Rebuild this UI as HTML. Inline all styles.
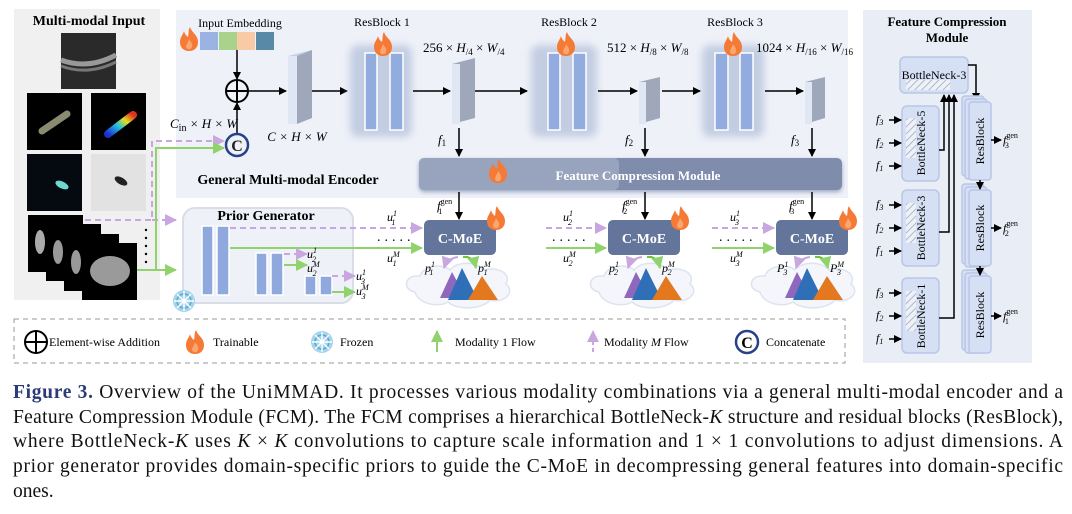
<!DOCTYPE html>
<html><head><meta charset="utf-8"><style>
html,body{margin:0;padding:0;background:#fff;}
svg{display:block;font-family:"Liberation Serif",serif;}
</style></head><body>
<svg width="1072" height="514" viewBox="0 0 1072 514" xmlns="http://www.w3.org/2000/svg">
<defs>
<marker id="ab" markerWidth="8" markerHeight="8" refX="7" refY="4" orient="auto" markerUnits="userSpaceOnUse"><path d="M0,0 L8,4 L0,8 z" fill="#000"/></marker>
<marker id="ap" markerWidth="12" markerHeight="12" refX="11" refY="6" orient="auto" markerUnits="userSpaceOnUse"><path d="M0,0 L12,6 L0,12 z" fill="#c9a6e0"/></marker>
<marker id="ag" markerWidth="12" markerHeight="12" refX="11" refY="6" orient="auto" markerUnits="userSpaceOnUse"><path d="M0,0 L12,6 L0,12 z" fill="#90d26c"/></marker>
<filter id="bl" x="-30%" y="-30%" width="160%" height="160%"><feGaussianBlur stdDeviation="4"/></filter>
<filter id="bl2" x="-30%" y="-30%" width="160%" height="160%"><feGaussianBlur stdDeviation="2"/></filter>
<pattern id="hatch" width="5" height="5" patternUnits="userSpaceOnUse" patternTransform="rotate(45)"><rect width="5" height="5" fill="#eef1f8"/><line x1="0" y1="0" x2="0" y2="5" stroke="#9aa4b8" stroke-width="1.5"/></pattern>
<linearGradient id="rg" x1="0" y1="1" x2="1" y2="0"><stop offset="0" stop-color="#2030d0"/><stop offset=".4" stop-color="#20c0e0"/><stop offset=".7" stop-color="#e0e020"/><stop offset="1" stop-color="#e03020"/></linearGradient>
<g id="flame"><path d="M10,0 C12,6 18,8 18,15 C18,21 14,24 9,24 C4,24 0,21 0,15 C0,10 3,8 4,4 C5,8 7,9 8,10 C9,6 8,3 10,0z" fill="#f47a36"/><path d="M9,12 C11,15 13,17 12,20 C11,23 7,23 6,20 C6,17 8,16 9,12z" fill="#f9a670"/></g>
<g id="snow"><circle r="11" fill="#a6d4ec"/><circle r="7" fill="none" stroke="#5aa7d2" stroke-width="1.5"/><path d="M-10,0H10M0,-10V10M-7,-7L7,7M-7,7L7,-7" stroke="#fff" stroke-width="1.4"/><circle r="2" fill="#fff"/></g>
</defs>

<!-- Left panel -->
<rect x="14" y="9" width="146" height="291" fill="#f0f0f0"/>
<text x="89" y="25" font-size="14" font-weight="bold" text-anchor="middle">Multi-modal Input</text>
<rect x="61" y="33" width="55" height="56" fill="#2a2a2a"/>
<path d="M61,60 Q88,70 116,55" stroke="#999" stroke-width="5" fill="none"/>
<path d="M61,66 Q88,76 116,62" stroke="#777" stroke-width="3" fill="none"/>
<rect x="27" y="93" width="55" height="57" fill="#000"/>
<rect x="91" y="93" width="55" height="57" fill="#000"/>
<line x1="42" y1="131" x2="67" y2="114" stroke="#8a8a70" stroke-width="7" stroke-linecap="round"/>
<line x1="108" y1="134" x2="133" y2="115" stroke="url(#rg)" stroke-width="8" stroke-linecap="round"/>
<rect x="27" y="154" width="55" height="57" fill="#050a10"/>
<ellipse cx="62" cy="185" rx="7" ry="3.5" fill="#6fd8d0" transform="rotate(25 62 185)"/>
<rect x="91" y="154" width="55" height="57" fill="#e2e2e2"/>
<ellipse cx="121" cy="181" rx="7" ry="3.5" fill="#222" transform="rotate(30 121 181)"/>
<rect x="28" y="215" width="55" height="57" fill="#000"/><ellipse cx="40" cy="242" rx="5" ry="12" fill="#aaa"/>
<rect x="46" y="224" width="55" height="57" fill="#000"/><ellipse cx="58" cy="252" rx="5" ry="12" fill="#999"/>
<rect x="64" y="234" width="55" height="57" fill="#000"/><ellipse cx="76" cy="262" rx="5" ry="12" fill="#999"/>
<rect x="82" y="243" width="55" height="57" fill="#000"/><ellipse cx="110" cy="271" rx="20" ry="15" fill="#9a9a9a"/>
<g fill="#000"><circle cx="146" cy="230" r="1.2"/><circle cx="146" cy="238" r="1.2"/><circle cx="146" cy="246" r="1.2"/><circle cx="146" cy="254" r="1.2"/><circle cx="146" cy="262" r="1.2"/></g>

<!-- Encoder panel -->
<rect x="176" y="10" width="672" height="188" fill="#eef1f8"/>
<text x="240" y="27" font-size="12" text-anchor="middle">Input Embedding</text>
<use href="#flame" x="180" y="27"/>
<rect x="200" y="32" width="18" height="18" fill="#9bb3e2"/><rect x="219" y="32" width="18" height="18" fill="#a9d38c"/><rect x="237" y="32" width="18" height="18" fill="#f8caa6"/><rect x="256" y="32" width="18" height="18" fill="#5889a7"/>
<line x1="237" y1="50" x2="237" y2="79" stroke="#000" stroke-width="1.5" marker-end="url(#ab)"/>
<circle cx="237" cy="91" r="11" fill="none" stroke="#000" stroke-width="2"/>
<path d="M226,91H248M237,80V102" stroke="#000" stroke-width="2"/>
<line x1="237" y1="133" x2="237" y2="103" stroke="#000" stroke-width="1.5" marker-end="url(#ab)"/>
<circle cx="237" cy="145" r="11" fill="#eef1f8" stroke="#27408b" stroke-width="2.5"/>
<text x="237" y="151" font-size="16" font-weight="bold" text-anchor="middle" fill="#222">C</text>
<text x="170" y="128" font-size="13" font-style="italic">C<tspan font-style="normal" font-size="10" dy="3">in</tspan><tspan dy="-3"> × H × W</tspan></text>
<polygon points="288,56 312,50 312,118 288,124" fill="#c6d0e4"/>
<polygon points="297,56 312,50 312,118 297,124" fill="#9ea8ba"/>
<rect x="288" y="56" width="9" height="68" fill="#dfe6f4"/>
<text x="297" y="141" font-size="13" font-style="italic" text-anchor="middle">C × H × W</text>
<line x1="248" y1="91" x2="286" y2="91" stroke="#000" stroke-width="1.5" marker-end="url(#ab)"/>
<line x1="312" y1="91" x2="347" y2="91" stroke="#000" stroke-width="1.5" marker-end="url(#ab)"/>
<g>
<rect x="350" y="45" width="62" height="92" rx="8" fill="#c3cde2" filter="url(#bl)"/>
<rect x="365" y="53" width="12" height="77" fill="#93ace0" stroke="#fff" stroke-width="1.5"/><rect x="390" y="53" width="13" height="77" fill="#93ace0" stroke="#fff" stroke-width="1.5"/>
<use href="#flame" x="374" y="32"/>
<text x="382" y="26" font-size="12" text-anchor="middle">ResBlock 1</text>
</g>
<g>
<rect x="531" y="45" width="66" height="92" rx="8" fill="#c3cde2" filter="url(#bl)"/>
<rect x="548" y="53" width="12" height="77" fill="#93ace0" stroke="#fff" stroke-width="1.5"/><rect x="573" y="53" width="13" height="77" fill="#93ace0" stroke="#fff" stroke-width="1.5"/>
<use href="#flame" x="557" y="32"/>
<text x="569" y="26" font-size="12" text-anchor="middle">ResBlock 2</text>
</g>
<g>
<rect x="702" y="45" width="62" height="92" rx="8" fill="#c3cde2" filter="url(#bl)"/>
<rect x="715" y="53" width="13" height="77" fill="#93ace0" stroke="#fff" stroke-width="1.5"/><rect x="740" y="53" width="13" height="77" fill="#93ace0" stroke="#fff" stroke-width="1.5"/>
<use href="#flame" x="724" y="32"/>
<text x="735" y="26" font-size="12" text-anchor="middle">ResBlock 3</text>
</g>
<line x1="413" y1="91" x2="450" y2="91" stroke="#000" stroke-width="1.5" marker-end="url(#ab)"/>
<polygon points="452,64 475,58 475,118 452,124" fill="#9ea8ba"/><rect x="452" y="64" width="8" height="60" fill="#dfe6f4"/>
<line x1="475" y1="91" x2="527" y2="91" stroke="#000" stroke-width="1.5" marker-end="url(#ab)"/>
<line x1="598" y1="91" x2="637" y2="91" stroke="#000" stroke-width="1.5" marker-end="url(#ab)"/>
<polygon points="639,82 660,77 660,118 639,124" fill="#9ea8ba"/><rect x="639" y="82" width="7" height="42" fill="#dfe6f4"/>
<line x1="662" y1="91" x2="700" y2="91" stroke="#000" stroke-width="1.5" marker-end="url(#ab)"/>
<line x1="765" y1="91" x2="803" y2="91" stroke="#000" stroke-width="1.5" marker-end="url(#ab)"/>
<polygon points="805,82 825,77 825,118 805,124" fill="#9ea8ba"/><rect x="805" y="82" width="7" height="42" fill="#dfe6f4"/>
<g font-size="13"><text x="423" y="52">256 × <tspan font-style="italic">H</tspan><tspan font-size="9" dy="3">/4</tspan><tspan dy="-3"> × </tspan><tspan font-style="italic">W</tspan><tspan font-size="9" dy="3">/4</tspan></text>
<text x="607" y="52">512 × <tspan font-style="italic">H</tspan><tspan font-size="9" dy="3">/8</tspan><tspan dy="-3"> × </tspan><tspan font-style="italic">W</tspan><tspan font-size="9" dy="3">/8</tspan></text>
<text x="756" y="52">1024 × <tspan font-style="italic">H</tspan><tspan font-size="9" dy="3">/16</tspan><tspan dy="-3"> × </tspan><tspan font-style="italic">W</tspan><tspan font-size="9" dy="3">/16</tspan></text></g>
<g font-size="13" font-style="italic"><text x="438" y="144">f<tspan font-size="9" font-style="normal" dy="2">1</tspan></text><text x="625" y="144">f<tspan font-size="9" font-style="normal" dy="2">2</tspan></text><text x="791" y="144">f<tspan font-size="9" font-style="normal" dy="2">3</tspan></text></g>
<line x1="459" y1="128" x2="459" y2="156" stroke="#000" stroke-width="1.5" marker-end="url(#ab)"/>
<line x1="645" y1="128" x2="645" y2="156" stroke="#000" stroke-width="1.5" marker-end="url(#ab)"/>
<line x1="812" y1="128" x2="812" y2="156" stroke="#000" stroke-width="1.5" marker-end="url(#ab)"/>
<rect x="419" y="160" width="423" height="32" rx="5" fill="#9aa6c0" filter="url(#bl2)"/>
<rect x="419" y="158" width="423" height="32" rx="5" fill="#7f8cab"/>
<rect x="419" y="158" width="200" height="32" rx="5" fill="#a8b3c9" opacity=".6"/>
<use href="#flame" x="489" y="159"/>
<text x="638" y="180" font-size="13" font-weight="bold" fill="#fff" text-anchor="middle">Feature Compression Module</text>
<text x="288" y="184" font-size="14" font-weight="bold" text-anchor="middle">General Multi-modal Encoder</text>

<path d="M85,220 H152 V141 H224" stroke="#c9a6e0" stroke-width="2" stroke-dasharray="6,4" fill="none" marker-end="url(#ap)"/>
<path d="M152,220 H176" stroke="#c9a6e0" stroke-width="2" stroke-dasharray="6,4" fill="none" marker-end="url(#ap)"/>
<path d="M137,270 H156 V148 H224" stroke="#90d26c" stroke-width="2" fill="none" marker-end="url(#ag)"/>
<path d="M156,270 H176" stroke="#90d26c" stroke-width="2" fill="none" marker-end="url(#ag)"/>

<rect x="183" y="208" width="170" height="95" rx="12" fill="#eef1f8" stroke="#d8dde8" stroke-width="2"/>
<text x="266" y="220" font-size="14" font-weight="bold" text-anchor="middle">Prior Generator</text>
<g fill="#8fa9df" stroke="#fff" stroke-width="1.5">
<rect x="202" y="226" width="11" height="69"/><rect x="217" y="226" width="12" height="69"/>
<rect x="256" y="253" width="11" height="42"/><rect x="271" y="253" width="12" height="42"/>
<rect x="305" y="276" width="11" height="19"/><rect x="320" y="276" width="12" height="19"/></g>
<use href="#snow" x="184" y="301"/>
<g stroke-width="2" fill="none">
<path d="M230,228H422" stroke="#c9a6e0" stroke-dasharray="6,4" marker-end="url(#ap)"/>
<path d="M230,248H422" stroke="#90d26c" marker-end="url(#ag)"/>
<path d="M284,254H307" stroke="#c9a6e0" stroke-dasharray="6,4" marker-end="url(#ap)"/>
<path d="M284,265H307" stroke="#90d26c" marker-end="url(#ag)"/>
<path d="M332,276H355" stroke="#c9a6e0" stroke-dasharray="6,4" marker-end="url(#ap)"/>
<path d="M332,292H355" stroke="#90d26c" marker-end="url(#ag)"/>
<path d="M546,228H606" stroke="#c9a6e0" stroke-dasharray="6,4" marker-end="url(#ap)"/>
<path d="M546,248H606" stroke="#90d26c" marker-end="url(#ag)"/>
<path d="M712,228H774" stroke="#c9a6e0" stroke-dasharray="6,4" marker-end="url(#ap)"/>
<path d="M712,248H774" stroke="#90d26c" marker-end="url(#ag)"/>
</g>
<g font-size="12" font-style="italic">
<text x="307" y="258">u<tspan font-size="8" dy="-5">1</tspan><tspan font-size="8" dx="-5" dy="9">2</tspan></text>
<text x="307" y="272">u<tspan font-size="8" dy="-5">M</tspan><tspan font-size="8" dx="-7" dy="9">2</tspan></text>
<text x="356" y="280">u<tspan font-size="8" dy="-5">1</tspan><tspan font-size="8" dx="-5" dy="9">3</tspan></text>
<text x="356" y="295">u<tspan font-size="8" dy="-5">M</tspan><tspan font-size="8" dx="-7" dy="9">3</tspan></text>
<text x="387" y="221">u<tspan font-size="8" dy="-5">1</tspan><tspan font-size="8" dx="-5" dy="9">1</tspan></text>
<text x="387" y="262">u<tspan font-size="8" dy="-5">M</tspan><tspan font-size="8" dx="-7" dy="9">1</tspan></text>
<text x="563" y="221">u<tspan font-size="8" dy="-5">1</tspan><tspan font-size="8" dx="-5" dy="9">2</tspan></text>
<text x="563" y="262">u<tspan font-size="8" dy="-5">M</tspan><tspan font-size="8" dx="-7" dy="9">2</tspan></text>
<text x="730" y="221">u<tspan font-size="8" dy="-5">1</tspan><tspan font-size="8" dx="-5" dy="9">3</tspan></text>
<text x="730" y="262">u<tspan font-size="8" dy="-5">M</tspan><tspan font-size="8" dx="-7" dy="9">3</tspan></text>
</g>
<g font-size="14" letter-spacing="4"><text x="377" y="241">.....</text><text x="552" y="241">.....</text><text x="719" y="241">.....</text></g>

<g font-size="13" font-style="italic">
<text x="437" y="210">f<tspan font-size="8" font-style="normal" dy="-6">gen</tspan><tspan font-size="8" font-style="normal" dx="-14" dy="10">1</tspan></text>
<text x="622" y="210">f<tspan font-size="8" font-style="normal" dy="-6">gen</tspan><tspan font-size="8" font-style="normal" dx="-14" dy="10">2</tspan></text>
<text x="789" y="210">f<tspan font-size="8" font-style="normal" dy="-6">gen</tspan><tspan font-size="8" font-style="normal" dx="-14" dy="10">3</tspan></text></g>
<line x1="459" y1="192" x2="459" y2="219" stroke="#000" stroke-width="1.5" marker-end="url(#ab)"/>
<line x1="645" y1="192" x2="645" y2="219" stroke="#000" stroke-width="1.5" marker-end="url(#ab)"/>
<line x1="812" y1="192" x2="812" y2="219" stroke="#000" stroke-width="1.5" marker-end="url(#ab)"/>
<g>
<rect x="424" y="220" width="72" height="35" rx="5" fill="#63759a"/><text x="460" y="243" font-size="14" font-weight="bold" fill="#fff" text-anchor="middle">C-MoE</text><use href="#flame" x="487" y="206"/>
<rect x="608" y="220" width="72" height="35" rx="5" fill="#63759a"/><text x="644" y="243" font-size="14" font-weight="bold" fill="#fff" text-anchor="middle">C-MoE</text><use href="#flame" x="671" y="206"/>
<rect x="776" y="220" width="72" height="35" rx="5" fill="#63759a"/><text x="812" y="243" font-size="14" font-weight="bold" fill="#fff" text-anchor="middle">C-MoE</text><use href="#flame" x="839" y="206"/>
</g>
<g id="cl1">
<path d="M415,292 C402,290 404,274 420,276 C424,264 444,264 450,270 C458,260 478,262 484,270 C498,266 512,274 506,284 C516,292 504,304 490,300 C482,310 456,310 448,302 C438,308 418,304 415,292z" fill="#f4f6fb" stroke="#dde3ef" stroke-width="1.5"/>
<polygon points="440,298 452,272 466,298" fill="#7a4fb0" opacity=".85"/>
<polygon points="448,300 462,268 478,300" fill="#2f6fb7"/>
<polygon points="468,300 482,276 498,300" fill="#e3781f"/>
</g>
<use href="#cl1" x="184"/>
<use href="#cl1" x="345"/>
<g font-size="12" font-style="italic">
<text x="425" y="272">p<tspan font-size="8" dy="-5">1</tspan><tspan font-size="8" dx="-5" dy="8">1</tspan></text>
<text x="478" y="272">p<tspan font-size="8" dy="-5">M</tspan><tspan font-size="8" dx="-7" dy="8">1</tspan></text>
<text x="609" y="272">p<tspan font-size="8" dy="-5">1</tspan><tspan font-size="8" dx="-5" dy="8">2</tspan></text>
<text x="662" y="272">p<tspan font-size="8" dy="-5">M</tspan><tspan font-size="8" dx="-7" dy="8">2</tspan></text>
<text x="777" y="272">P<tspan font-size="8" dy="-5">1</tspan><tspan font-size="8" dx="-5" dy="8">3</tspan></text>
<text x="830" y="272">P<tspan font-size="8" dy="-5">M</tspan><tspan font-size="8" dx="-7" dy="8">3</tspan></text>
</g>
<g fill="none" stroke-width="2">
<path d="M458,257 C450,258 446,262 444,268" stroke="#c9a6e0" marker-end="url(#ap)"/>
<path d="M463,257 C470,256 474,260 476,268" stroke="#6cbf3c" marker-end="url(#ag)"/>
<path d="M642,257 C634,258 630,262 628,268" stroke="#c9a6e0" marker-end="url(#ap)"/>
<path d="M647,257 C654,256 658,260 660,268" stroke="#6cbf3c" marker-end="url(#ag)"/>
<path d="M810,257 C802,258 798,262 796,268" stroke="#c9a6e0" marker-end="url(#ap)"/>
<path d="M815,257 C822,256 826,260 828,268" stroke="#6cbf3c" marker-end="url(#ag)"/>
</g>

<rect x="14" y="319" width="831" height="44" fill="none" stroke="#999" stroke-dasharray="5,4"/>
<circle cx="36" cy="342" r="11" fill="none" stroke="#000" stroke-width="2"/><path d="M25,342H47M36,331V353" stroke="#000" stroke-width="2"/>
<g font-size="12"><text x="49" y="346">Element-wise Addition</text><text x="213" y="346">Trainable</text><text x="340" y="346">Frozen</text><text x="455" y="346">Modality 1 Flow</text><text x="604" y="346">Modality <tspan font-style="italic">M</tspan> Flow</text><text x="766" y="346">Concatenate</text></g>
<use href="#flame" x="186" y="330"/>
<use href="#snow" x="322" y="342"/>
<line x1="437" y1="352" x2="437" y2="331" stroke="#90d26c" stroke-width="2" marker-end="url(#ag)"/>
<line x1="593" y1="352" x2="593" y2="331" stroke="#c9a6e0" stroke-width="2" stroke-dasharray="4,3" marker-end="url(#ap)"/>
<circle cx="747" cy="342" r="11" fill="#fff" stroke="#27408b" stroke-width="2.5"/><text x="747" y="348" font-size="16" font-weight="bold" text-anchor="middle">C</text>

<rect x="863" y="10" width="169" height="353" fill="#e9edf6"/>
<text x="947" y="26" font-size="13" font-weight="bold" text-anchor="middle">Feature Compression</text>
<text x="947" y="42" font-size="13" font-weight="bold" text-anchor="middle">Module</text>
<rect x="900" y="57" width="68" height="36" rx="5" fill="#d6e0f4" stroke="#b9c6e6" stroke-width="1.5"/>
<rect x="906" y="80" width="44" height="10" fill="url(#hatch)"/>
<text x="934" y="79" font-size="12" text-anchor="middle">BottleNeck-3</text>
<path d="M968,65H976V100" stroke="#000" stroke-width="1.5" fill="none" marker-end="url(#ab)"/>
<g>
<rect x="902" y="106" width="37" height="75" rx="5" fill="#d6e0f4" stroke="#b9c6e6" stroke-width="1.5"/>
<rect x="902" y="190" width="37" height="76" rx="5" fill="#d6e0f4" stroke="#b9c6e6" stroke-width="1.5"/>
<rect x="902" y="278" width="37" height="75" rx="5" fill="#d6e0f4" stroke="#b9c6e6" stroke-width="1.5"/>
<rect x="906" y="118" width="10" height="40" fill="url(#hatch)"/><rect x="906" y="203" width="10" height="40" fill="url(#hatch)"/><rect x="906" y="291" width="10" height="40" fill="url(#hatch)"/>
<g font-size="12" text-anchor="middle">
<text transform="translate(925 143) rotate(-90)">BottleNeck-5</text>
<text transform="translate(925 228) rotate(-90)">BottleNeck-3</text>
<text transform="translate(925 316) rotate(-90)">BottleNeck-1</text></g>
</g>
<g stroke="#000" stroke-width="1.5" fill="none">
<path d="M939,150H944V95" marker-end="url(#ab)"/>
<path d="M939,232H949V95" marker-end="url(#ab)"/>
<path d="M939,318H954V95" marker-end="url(#ab)"/>
</g>
<g font-size="12" font-style="italic">
<text x="876" y="123">f<tspan font-size="8" dy="2">3</tspan></text><text x="876" y="146">f<tspan font-size="8" dy="2">2</tspan></text><text x="876" y="169">f<tspan font-size="8" dy="2">1</tspan></text>
<text x="876" y="208">f<tspan font-size="8" dy="2">3</tspan></text><text x="876" y="231">f<tspan font-size="8" dy="2">2</tspan></text><text x="876" y="254">f<tspan font-size="8" dy="2">1</tspan></text>
<text x="876" y="296">f<tspan font-size="8" dy="2">3</tspan></text><text x="876" y="319">f<tspan font-size="8" dy="2">2</tspan></text><text x="876" y="342">f<tspan font-size="8" dy="2">1</tspan></text>
</g>
<g stroke="#000" stroke-width="1.5" marker-end="url(#ab)">
<line x1="889" y1="120" x2="901" y2="120"/><line x1="889" y1="143" x2="901" y2="143"/><line x1="889" y1="166" x2="901" y2="166"/>
<line x1="889" y1="205" x2="901" y2="205"/><line x1="889" y1="228" x2="901" y2="228"/><line x1="889" y1="251" x2="901" y2="251"/>
<line x1="889" y1="293" x2="901" y2="293"/><line x1="889" y1="316" x2="901" y2="316"/><line x1="889" y1="339" x2="901" y2="339"/>
</g>
<g fill="#d6e0f4" stroke="#b9c6e6" stroke-width="1.5">
<rect x="962" y="96" width="22" height="80" rx="3"/><rect x="965" y="99" width="22" height="80" rx="3"/><rect x="969" y="102" width="22" height="78" rx="3"/>
<rect x="962" y="184" width="22" height="80" rx="3"/><rect x="965" y="187" width="22" height="80" rx="3"/><rect x="969" y="190" width="22" height="76" rx="3"/>
<rect x="962" y="270" width="22" height="80" rx="3"/><rect x="965" y="273" width="22" height="80" rx="3"/><rect x="969" y="276" width="22" height="77" rx="3"/>
</g>
<g font-size="12" text-anchor="middle">
<text transform="translate(984 141) rotate(-90)">ResBlock</text>
<text transform="translate(984 228) rotate(-90)">ResBlock</text>
<text transform="translate(984 315) rotate(-90)">ResBlock</text></g>
<g stroke="#000" stroke-width="1.5" marker-end="url(#ab)">
<line x1="980" y1="180" x2="980" y2="189"/><line x1="980" y1="266" x2="980" y2="275"/>
<line x1="991" y1="140" x2="1001" y2="140"/><line x1="991" y1="228" x2="1001" y2="228"/><line x1="991" y1="316" x2="1001" y2="316"/>
</g>
<g font-size="12" font-style="italic">
<text x="1003" y="144">f<tspan font-size="8" font-style="normal" dy="-6">gen</tspan><tspan font-size="8" font-style="normal" dx="-13" dy="10">3</tspan></text>
<text x="1003" y="232">f<tspan font-size="8" font-style="normal" dy="-6">gen</tspan><tspan font-size="8" font-style="normal" dx="-13" dy="10">2</tspan></text>
<text x="1003" y="320">f<tspan font-size="8" font-style="normal" dy="-6">gen</tspan><tspan font-size="8" font-style="normal" dx="-13" dy="10">1</tspan></text>
</g>

<g font-size="19.5" fill="#111">
<text x="13" y="398" textLength="1050" lengthAdjust="spacing"><tspan fill="#2b3a78" font-weight="bold">Figure 3.</tspan> Overview of the UniMMAD. It processes various modality combinations via a general multi-modal encoder and a</text>
<text x="13" y="423" textLength="1050" lengthAdjust="spacing">Feature Compression Module (FCM). The FCM comprises a hierarchical BottleNeck-<tspan font-style="italic">K</tspan> structure and residual blocks (ResBlock),</text>
<text x="13" y="447" textLength="1050" lengthAdjust="spacing">where BottleNeck-<tspan font-style="italic">K</tspan> uses <tspan font-style="italic">K</tspan> × <tspan font-style="italic">K</tspan> convolutions to capture scale information and 1 × 1 convolutions to adjust dimensions. A</text>
<text x="13" y="472" textLength="1050" lengthAdjust="spacing">prior generator provides domain-specific priors to guide the C-MoE in decompressing general features into domain-specific</text>
<text x="13" y="497">ones.</text>
</g>
</svg>
</body></html>
